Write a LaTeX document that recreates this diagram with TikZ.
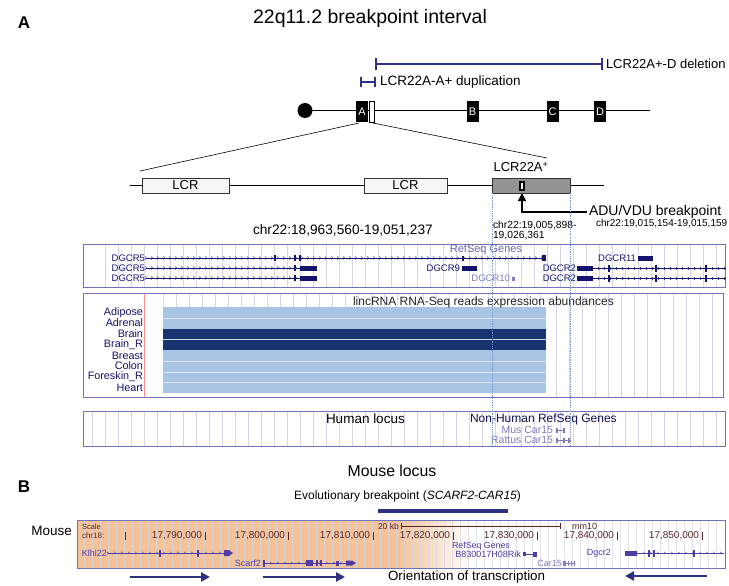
\documentclass[tikz,border=0pt]{standalone}
\usepackage{fontspec}
\setmainfont{Liberation Sans}
\usetikzlibrary{decorations.markings,arrows.meta}
\definecolor{navy}{RGB}{46,49,130}
\definecolor{gnavy}{RGB}{20,20,110}
\definecolor{panelb}{RGB}{112,112,188}
\definecolor{gridc}{RGB}{214,214,232}
\definecolor{lblue}{RGB}{168,196,228}
\definecolor{dblue}{RGB}{24,52,112}
\definecolor{morange}{RGB}{244,196,152}
\definecolor{dotb}{RGB}{120,150,215}
\definecolor{brownt}{RGB}{90,40,40}
\definecolor{mgene}{RGB}{80,60,165}
\definecolor{lgene}{RGB}{125,125,190}
\newcommand\fsz[1]{\fontsize{#1}{#1}\selectfont}
\tikzset{
 tx/.style={inner sep=0pt,outer sep=0pt},
 chrbox/.style={fill=black,text=white,inner sep=0pt,minimum width=12pt,minimum height=21pt,font=\fsz{11}},
 lcrbox/.style={draw=black!80,line width=0.8pt,fill=black!4,inner sep=0pt,minimum height=15pt,font=\fsz{13}},
 panel/.style={draw=panelb,line width=0.9pt},
 gridln/.style={draw=gridc,line width=0.5pt},
 gene/.style={draw=gnavy,line width=0.6pt},
 mgn/.style={draw=mgene,line width=0.6pt},
 intron/.style={postaction={decorate,decoration={markings,mark=between positions 0 and 1 step 6pt with {\draw[gnavy,line width=0.4pt] (-1pt,1.5pt)--(0.6pt,0pt)--(-1pt,-1.5pt);}}}},
 mintron/.style={postaction={decorate,decoration={markings,mark=between positions 0 and 1 step 7pt with {\draw[mgene,line width=0.4pt] (-1pt,1.3pt)--(0.5pt,0pt)--(-1pt,-1.3pt);}}}},
 bar/.style={draw=navy,line width=2.6pt},
 orient/.style={draw=navy,line width=2.2pt,-{Triangle[length=9pt,width=9pt]}},
 genelab/.style={tx,anchor=east,font=\fsz{9.5},text=gnavy},
 tislab/.style={tx,anchor=east,font=\fsz{10.8},text=gnavy},
 coordlab/.style={tx,anchor=east,font=\fsz{10},text=brownt},
}
\begin{document}
\begin{tikzpicture}[x=1pt,y=-1pt]
\useasboundingbox[fill=white] (0,0) rectangle (729,586);
% ---------------- Part A header
\node[tx,font=\fsz{17}\bfseries] (labA) at (24,23) {A};
\node[tx,font=\fsz{19.5}] (title) at (370,18) {22q11.2 breakpoint interval};
\draw[bar] (376,64) -- (602,64);
\draw[bar] (376,58) -- (376,70);
\draw[bar] (602,58) -- (602,70);
\node[tx,anchor=west,font=\fsz{13}] (dellab) at (606,64) {LCR22A+-D deletion};
\draw[bar] (361,82) -- (375,82);
\draw[bar] (361,77) -- (361,87);
\draw[bar] (375,77) -- (375,87);
\node[tx,anchor=west,font=\fsz{13.5}] (duplab) at (380,82) {LCR22A-A+ duplication};
% chromosome
\draw[line width=1.1pt] (299,110.5) -- (650,110.5);
\fill (305,110.5) circle (7.5);
\node[chrbox] (bA) at (362,111.5) {A};
\draw[line width=0.7pt,fill=white] (369.5,101) rectangle (374.5,122);
\node[chrbox] (bB) at (472.5,111.5) {B};
\node[chrbox] (bC) at (552.5,111.5) {C};
\node[chrbox] (bD) at (600,111.5) {D};
% zoom lines
\draw[line width=0.6pt] (359,123) -- (140,171);
\draw[line width=0.6pt] (373,123) -- (547,158);
% LCR row
\draw[line width=0.9pt] (130,185.5) -- (604,185.5);
\node[lcrbox,minimum width=87pt] (lcr1) at (185.5,185.5) {LCR};
\node[lcrbox,minimum width=83pt] (lcr2) at (405.5,185.5) {LCR};
\node[lcrbox,minimum width=78pt,fill=black!42] (lcr3) at (531,185.5) {};
\node[tx,font=\fsz{13}] (lcr3lab) at (521,167) {LCR22A\textsuperscript{+}};
\fill (519,180.5) rectangle (525,191);
\fill[white] (521,183) rectangle (523,188.5);
% breakpoint arrow
\coordinate (bpend) at (587,212);
\coordinate (bptip) at (522,193);
\draw[line width=1.4pt,-{Triangle[length=8pt,width=8pt]}] (bpend) -| (bptip);
\node[tx,anchor=west,font=\fsz{14}] (adu) at (589,212) {ADU/VDU breakpoint};
\node[tx,anchor=west,font=\fsz{10}] (aduc) at (596,224) {chr22:19,015,154-19,015,159};
\node[tx,anchor=west,font=\fsz{10.3}] (reg1) at (493,225) {chr22:19,005,898-};
\node[tx,anchor=west,font=\fsz{10.3}] (reg2) at (493,236) {19,026,361};
\node[tx,anchor=west,font=\fsz{13.7}] (chrpos) at (253,230) {chr22:18,963,560-19,051,237};
% ---------------- Panel 1 RefSeq
\foreach \x in {105,118,...,720} \draw[gridln] (\x,244.5) -- (\x,286.5);
\draw[panel] (83,244) rectangle (725,287);
\node[tx,font=\fsz{11},text=lgene!80!gnavy] (refseq) at (486,249.5) {RefSeq Genes};
\node[genelab] (g5a) at (145,258) {DGCR5};
\node[genelab] (g5b) at (145,268) {DGCR5};
\node[genelab] (g5c) at (145,278) {DGCR5};
\draw[gene,intron] (146,258) -- (545,258);
\fill[gnavy] (274,255) rectangle (276,261);
\fill[gnavy] (294,255) rectangle (296,261);
\fill[gnavy] (299,255) rectangle (301,261);
\fill[gnavy] (462,255.5) rectangle (463.5,260.5);
\fill[gnavy] (542,255) rectangle (546,261);
\draw[gene,intron] (146,268) -- (300,268);
\fill[gnavy] (300,265.5) rectangle (317,270.5);
\fill[gnavy] (294,265) rectangle (296,271);
\draw[gene,intron] (146,278) -- (300,278);
\fill[gnavy] (300,275.5) rectangle (317,280.5);
\fill[gnavy] (294,275) rectangle (296,281);
\node[genelab] (g9) at (460,268) {DGCR9};
\fill[gnavy] (462,265.5) rectangle (477,270.5);
\node[genelab,text=lgene] (g10) at (510,278.5) {DGCR10};
\fill[lgene] (512,276.5) rectangle (515,280.5);
\node[genelab] (g11) at (636,258) {DGCR11};
\fill[gnavy] (638,255.5) rectangle (653,260.5);
\node[genelab] (g2a) at (576,268.5) {DGCR2};
\node[genelab] (g2b) at (576,278.5) {DGCR2};
\foreach \y in {268.5,278.5} {
  \fill[gnavy] (577,\y-2.5) rectangle (593,\y+2.5);
  \draw[gene,intron] (593,\y) -- (725,\y);
  \foreach \x in {608,655,705} \fill[gnavy] (\x,\y-3.5) rectangle (\x+1.5,\y+3.5);
}
% ---------------- Panel 2 lincRNA
\foreach \x in {163,176,...,546} \draw[gridln] (\x,293.5) -- (\x,307);
\foreach \x in {556,569,...,720} \draw[gridln] (\x,293.5) -- (\x,396.5);
\fill[lblue] (163,307) rectangle (546,393);
\fill[dblue] (163,329) rectangle (546,350);
\foreach \y in {318,361,372,382} \draw[white!60!lblue,line width=0.7pt] (163,\y) -- (546,\y);
\draw[white!40!lblue,line width=0.7pt] (163,339.5) -- (546,339.5);
\draw[red!45,line width=0.5pt] (144,294) -- (144,396.5);
\draw[panel] (83,293) rectangle (723,397);
\node[tx,anchor=west,font=\fsz{12},text=black!85] (linc) at (353,302.5) {lincRNA RNA-Seq reads expression abundances};
\node[tislab] (t1) at (143,312.5) {Adipose};
\node[tislab] (t2) at (143,323) {Adrenal};
\node[tislab] (t3) at (143,334) {Brain};
\node[tislab] (t4) at (143,345) {Brain\_R};
\node[tislab] (t5) at (143,355.5) {Breast};
\node[tislab] (t6) at (143,366) {Colon};
\node[tislab] (t7) at (143,377) {Foreskin\_R};
\node[tislab] (t8) at (143,388) {Heart};
% ---------------- Panel 3 human locus
\foreach \x in {92,105,...,720} \draw[gridln] (\x,411.5) -- (\x,445.5);
\draw[panel] (83,411) rectangle (725,446);
\node[tx,anchor=west,font=\fsz{13.5}] (hum) at (326,419) {Human locus};
\node[tx,anchor=west,font=\fsz{12},text=gnavy!75!black] (nonhum) at (470,419.5) {Non-Human RefSeq Genes};
\node[tx,anchor=east,font=\fsz{10.5},text=lgene] (mus) at (553,430) {Mus Car15};
\node[tx,anchor=east,font=\fsz{10.5},text=lgene] (rat) at (553,440) {Rattus Car15};
\fill[lgene] (556,427.5) rectangle (558,432.5);
\fill[lgene] (563,427.5) rectangle (565,432.5);
\draw[lgene] (558,430) -- (563,430);
\fill[lgene] (556,437.5) rectangle (558,442.5);
\fill[lgene] (563,437.5) rectangle (565,442.5);
\fill[lgene] (568,437.5) rectangle (570,442.5);
\draw[lgene] (558,440) -- (568,440);
% dotted region lines
\draw[dotb,line width=0.8pt,densely dotted] (492,193) -- (492,446);
\draw[dotb,line width=0.8pt,densely dotted] (570,193) -- (570,446);
% ---------------- Part B
\node[tx,font=\fsz{17}\bfseries] (labB) at (24,487) {B};
\node[tx,font=\fsz{15.8}] (mloc) at (392,471) {Mouse locus};
\node[tx,font=\fsz{12}] (evo) at (407.5,496) {Evolutionary breakpoint (\textit{SCARF2-CAR15})};
\draw[draw=navy,line width=4pt] (378,511) -- (508,511);
\fill[morange] (77,520) rectangle (400,568);
\shade[left color=morange,right color=white] (400,520) rectangle (472,568);
\foreach \x in {84,92,...,720} \draw[gridln,opacity=0.7] (\x,520.5) -- (\x,567.5);
\draw[panel] (77,520) rectangle (725,568);
\node[tx,anchor=east,font=\fsz{13.5}] (mouse) at (72,531) {Mouse};
\node[tx,anchor=west,font=\fsz{7.5},text=brownt] (scl) at (82,527) {Scale};
\node[tx,anchor=west,font=\fsz{8},text=brownt] (chr18) at (82,535.5) {chr18:};
\foreach \x in {125,205,288,373,453,537,617,702} \draw[brownt,line width=0.7pt] (\x,532) -- (\x,540);
\node[coordlab] (c1) at (202,536) {17,790,000};
\node[coordlab] (c2) at (285,536) {17,800,000};
\node[coordlab] (c3) at (370,536) {17,810,000};
\node[coordlab] (c4) at (450,536) {17,820,000};
\node[coordlab] (c5) at (534,536) {17,830,000};
\node[coordlab] (c6) at (614,536) {17,840,000};
\node[coordlab] (c7) at (699,536) {17,850,000};
\node[tx,anchor=west,font=\fsz{8.5},text=brownt] (kb) at (378,526) {20 kb};
\draw[brownt,line width=0.6pt] (401,526) -- (560,526);
\draw[brownt,line width=0.6pt] (401,523) -- (401,529);
\draw[brownt,line width=0.6pt] (560,523) -- (560,529);
\node[tx,anchor=west,font=\fsz{9},text=brownt] (mm) at (572,526) {mm10};
\node[tx,font=\fsz{8.8},text=mgene] (refseqB) at (481,546.5) {RefSeq Genes};
% mouse genes
\node[tx,anchor=east,font=\fsz{9},text=mgene] (klhl) at (107,553) {Klhl22};
\draw[mgn,mintron] (108,553) -- (225,553);
\fill[mgene] (159,549.5) rectangle (160.5,556.5);
\fill[mgene] (197,549.5) rectangle (198.5,556.5);
\fill[mgene] (224,550) -- (229,550) -- (233,553) -- (229,556) -- (224,556) -- cycle;
\node[tx,anchor=east,font=\fsz{9},text=mgene] (scarf) at (261,563) {Scarf2};
\fill[mgene] (263,559.5) rectangle (264.5,566.5);
\draw[mgn,mintron] (264,563) -- (350,563);
\fill[mgene] (306,560) rectangle (313,566);
\fill[mgene] (316,560) rectangle (317.5,566);
\fill[mgene] (320,560) rectangle (321.5,566);
\fill[mgene] (336,560.5) rectangle (339,565.5);
\fill[mgene] (346,560.5) -- (352,560.5) -- (356,563) -- (352,565.5) -- (346,565.5) -- cycle;
\node[tx,anchor=east,font=\fsz{9},text=mgene] (rik) at (521,554) {B830017H08Rik};
\fill[mgene] (523,552) rectangle (526,556);
\draw[mgn] (526,554) -- (533,554);
\fill[mgene] (533,551.5) rectangle (537,556.5);
\node[tx,anchor=east,font=\fsz{9},text=mgene] (dgcr2m) at (611,553) {Dgcr2};
\fill[mgene] (625,550.5) rectangle (637,555.5);
\draw[mgn,mintron] (637,553) -- (724,553);
\foreach \x in {648,653,693} \fill[mgene] (\x,549.5) rectangle (\x+1.5,556.5);
\node[tx,anchor=east,font=\fsz{9},text=lgene] (car15) at (562,563.5) {Car15};
\fill[lgene] (563,561) rectangle (566,566);
\foreach \x in {568,571,574} \fill[lgene] (\x,561) rectangle (\x+1,566);
\draw[lgene] (566,563.5) -- (575,563.5);
% orientation
\coordinate (o1a) at (130,577); \coordinate (o1b) at (210,577);
\coordinate (o2a) at (263,577); \coordinate (o2b) at (345,577);
\coordinate (o3a) at (707,576); \coordinate (o3b) at (625,576);
\draw[orient] (o1a) -- (o1b);
\draw[orient] (o2a) -- (o2b);
\draw[orient] (o3a) -- (o3b);
\node[tx,anchor=west,font=\fsz{13.4}] (orientlab) at (388,577) {Orientation of transcription};
\end{tikzpicture}
\end{document}
